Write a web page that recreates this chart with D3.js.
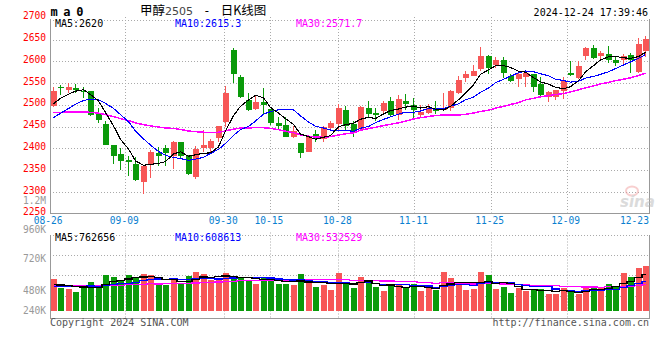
<!DOCTYPE html>
<html><head><meta charset="utf-8">
<script src="https://cdn.jsdelivr.net/npm/d3@7"></script>
<style>body{margin:0;background:#fff}svg{display:block}</style>
</head><body>
<svg id="c" width="660" height="360"></svg>
<script>
// ---------------- data ----------------
const tickLabels = ["08-26","09-09","09-30","10-15","10-28","11-11","11-25","12-09","12-23"];
const tickIndex  = [0, 10, 23, 29, 38, 48, 58, 68, 78];
const priceTicks = [2700,2650,2600,2550,2500,2450,2400,2350,2300,2250];
const volTickLabels = ["1.2M","960K","720K","480K","240K"];
const volTickValues = [1200000,960000,720000,480000,240000];
const maLegend  = ["2620","2615.3","2571.7"];
const volLegend = ["762656","608613","532529"];

// closes before 08-26 (not drawn, estimated from the MA lines)
const priorCloses = [2530,2525,2518,2522,2515,2520,2512,2510,2515,2506,
  2490,2478,2470,2462,2455,2450,2452,2448,2445,2445,
  2440,2432,2436,2442,2445,2478,2492,2500,2513];
const priorVolumes = [560000,520000,480000,590000,540000,510000,570000,500000,530000,550000,
  520000,560000,490000,540000,530000,580000,510000,500000,550000,550000,
  470000,455000,500000,480000,485000,520000,505000,540000,509000];

const opens = [2498,2540,2535,2539,2531,2531,2480,2456,2408,2388,
  2374,2365,2323,2365,2389,2402,2383,2415,2382,2334,
  2400,2402,2423,2461,2627,2564,2511,2490,2506,2490,
  2458,2454,2426,2412,2392,2433,2422,2447,2456,2488,
  2456,2444,2492,2482,2485,2509,2476,2509,2500,2477,
  2482,2494,2488,2494,2528,2561,2567,2583,2613,2591,
  2604,2567,2559,2564,2570,2547,2518,2518,2533,2574,
  2562,2613,2630,2613,2617,2602,2603,2615,2576,2623];
const highs = [2541,2546,2551,2549,2541,2532,2492,2462,2408,2402,
  2382,2380,2359,2396,2403,2408,2418,2415,2386,2405,
  2442,2422,2452,2543,2630,2568,2527,2520,2538,2490,
  2473,2473,2452,2412,2430,2442,2452,2462,2502,2497,
  2462,2497,2508,2492,2508,2518,2523,2524,2515,2499,
  2502,2508,2527,2535,2567,2577,2592,2632,2615,2609,
  2609,2570,2577,2577,2571,2565,2533,2535,2564,2600,
  2600,2632,2638,2624,2636,2612,2617,2619,2653,2658];
const lows = [2496,2523,2528,2527,2516,2474,2459,2407,2364,2351,
  2336,2325,2295,2333,2359,2359,2353,2376,2338,2329,
  2392,2388,2414,2449,2551,2515,2486,2488,2480,2455,
  2444,2426,2424,2377,2392,2415,2414,2442,2442,2442,
  2427,2442,2473,2464,2479,2474,2465,2489,2468,2473,
  2479,2479,2485,2486,2524,2552,2566,2579,2572,2585,
  2562,2552,2541,2542,2530,2516,2507,2511,2514,2566,
  2560,2602,2605,2602,2596,2590,2592,2574,2573,2609];
const closes = [2532,2538,2541,2534,2529,2477,2465,2408,2382,2372,
  2368,2327,2359,2391,2383,2389,2415,2383,2341,2399,
  2408,2418,2452,2527,2570,2518,2489,2506,2500,2458,
  2452,2427,2439,2389,2429,2422,2449,2458,2492,2452,
  2438,2496,2480,2477,2505,2477,2514,2502,2489,2483,
  2492,2485,2492,2532,2558,2570,2577,2613,2585,2604,
  2573,2555,2570,2574,2542,2523,2529,2535,2555,2568,
  2590,2630,2608,2620,2603,2596,2613,2603,2640,2652];
const volumes = [666000,471000,451000,388000,492000,596000,492000,742000,700000,638000,
  742000,673000,763000,742000,534000,534000,679000,555000,721000,804000,
  763000,638000,638000,783000,721000,679000,638000,555000,700000,700000,
  555000,555000,534000,763000,596000,492000,527000,430000,783000,575000,
  471000,700000,575000,492000,409000,513000,555000,471000,555000,409000,
  471000,430000,804000,679000,596000,430000,451000,804000,742000,451000,
  492000,367000,471000,409000,451000,451000,347000,347000,471000,388000,
  347000,471000,513000,471000,555000,513000,783000,700000,887000,929000];

// ---------------- drawing ----------------
const svg = d3.select("#c");
const L = 50, R = 649.5, mainTop = 19, mainBot = 212.5, volTop = 234.5, volBase = 310.7, volBot = 318.5;
const RED = "#f75757", GREEN = "#0a9a0a", GRID = "#aaaaaa", BORDER = "#999999";
const MONO = "'DejaVu Sans Mono', 'Liberation Mono', monospace";

const x = d3.scaleBand().domain(d3.range(closes.length)).range([L, 650]).paddingInner(0.2).paddingOuter(0.1);
const cx = i => Math.round(x(i)) + 2.5;
const xd = d3.scaleLinear().domain([0, 79]).range([49.2, 650.4]);   // date grid axis
const yP = d3.scaleLinear().domain([2250, 2700]).range([213.8, 17.8]);
const yV = d3.scaleLinear().domain([0, 1590000]).range([volBase, volTop]);
const yVLabel = d3.scaleLinear().domain(volTickValues).range([204, 233.3, 262, 294, 314.3]);

function ma(all, n, offset) {
  return d3.range(offset, all.length).map(k => d3.mean(all.slice(k - n + 1, k + 1)));
}
const allC = priorCloses.concat(closes), allV = priorVolumes.concat(volumes);
const off = priorCloses.length;
const pMA = [ma(allC,5,off), ma(allC,10,off), ma(allC,30,off)];
const vMA = [ma(allV,5,off), ma(allV,10,off), ma(allV,30,off)];
const maColors = ["#000000", "#0000ff", "#ff00ff"];

// grids - main
const g = svg.append("g");
priceTicks.slice(1, -1).forEach(v => {
  const yy = Math.round(yP(v)) + 0.5;
  g.append("line").attr("x1", L).attr("x2", R).attr("y1", yy).attr("y2", yy)
    .attr("stroke", GRID).attr("stroke-dasharray", "1,2");
});
[mainTop + 0.5, volTop].forEach(yy => {
  g.append("line").attr("x1", L).attr("x2", R).attr("y1", Math.round(yy) + 0.5).attr("y2", Math.round(yy) + 0.5)
    .attr("stroke", GRID).attr("stroke-dasharray", "1,2");
});
tickIndex.forEach((ti, k) => {
  if (k === 0 || k === tickIndex.length - 1) return;
  const xx = Math.round(xd(ti)) + 0.5;
  g.append("line").attr("x1", xx).attr("x2", xx).attr("y1", mainTop - 2).attr("y2", mainBot)
    .attr("stroke", GRID).attr("stroke-dasharray", "1,2");
  g.append("line").attr("x1", xx).attr("x2", xx).attr("y1", volTop - 2).attr("y2", volBot)
    .attr("stroke", GRID).attr("stroke-dasharray", "1,2");
});
// volume horizontal grid
[1, 2, 3].forEach(k => {
  const yy = Math.round(volTop + k * 20.4) + 0.5;
  g.append("line").attr("x1", L).attr("x2", R).attr("y1", yy).attr("y2", yy)
    .attr("stroke", GRID).attr("stroke-dasharray", "1,2");
});

// borders
const b = svg.append("g").attr("stroke", BORDER).attr("shape-rendering", "crispEdges");
b.append("line").attr("x1", L + 0.5).attr("x2", L + 0.5).attr("y1", mainTop).attr("y2", mainBot + 0.5);
b.append("line").attr("x1", R).attr("x2", R).attr("y1", mainTop).attr("y2", mainBot + 0.5);
b.append("line").attr("x1", L).attr("x2", R).attr("y1", mainBot + 0.5).attr("y2", mainBot + 0.5);
b.append("line").attr("x1", L + 0.5).attr("x2", L + 0.5).attr("y1", volTop).attr("y2", volBot);
b.append("line").attr("x1", R).attr("x2", R).attr("y1", volTop).attr("y2", volBot);
b.append("line").attr("x1", L).attr("x2", R).attr("y1", volBot).attr("y2", volBot);

// sina watermark
const wm = svg.append("g").attr("opacity", 0.5);
wm.append("ellipse").attr("cx", 632).attr("cy", 191).attr("rx", 6).attr("ry", 4.5)
  .attr("fill", "none").attr("stroke", "#f2a0a0").attr("stroke-width", 2);
wm.append("text").attr("x", 620).attr("y", 207).text("sina")
  .attr("font-family", "'DejaVu Sans', sans-serif").attr("font-style", "italic").attr("font-weight", "bold")
  .attr("font-size", 15).attr("fill", "#b8b8b8");

// candles
const cg = svg.append("g").attr("shape-rendering", "crispEdges");
closes.forEach((c, i) => {
  const o = opens[i], up = c >= o, col = up ? RED : GREEN;
  const xx = cx(i);
  cg.append("line").attr("x1", xx).attr("x2", xx)
    .attr("y1", Math.round(yP(highs[i]))).attr("y2", Math.round(yP(lows[i])))
    .attr("stroke", col);
  const top = Math.round(yP(Math.max(o, c))), bot = Math.round(yP(Math.min(o, c)));
  cg.append("rect").attr("x", Math.round(x(i))).attr("y", top)
    .attr("width", 6).attr("height", Math.max(1, bot - top)).attr("fill", col);
});

// volume bars
const vg = svg.append("g").attr("shape-rendering", "crispEdges");
volumes.forEach((v, i) => {
  const up = closes[i] >= opens[i];
  const top = Math.round(yV(v));
  vg.append("rect").attr("x", Math.round(x(i))).attr("y", top)
    .attr("width", 6).attr("height", Math.round(volBase) - top).attr("fill", up ? RED : GREEN);
});

// MA lines
const lineP = d3.line().x((d, i) => cx(i)).y(d => yP(d));
const lineV = d3.line().x((d, i) => cx(i)).y(d => yV(d)).curve(d3.curveStep);
[2, 1, 0].forEach(k => {
  svg.append("path").attr("d", lineP(pMA[k])).attr("fill", "none")
    .attr("stroke", maColors[k]).attr("stroke-width", k === 2 ? 1.5 : 1.1)
    .attr("shape-rendering", "crispEdges");
  svg.append("path").attr("d", lineV(vMA[k])).attr("fill", "none")
    .attr("stroke", maColors[k]).attr("stroke-width", 1.2)
    .attr("shape-rendering", "crispEdges");
});

// texts
const t = (xx, yy, s, col, size, anchor) => svg.append("text").attr("x", xx).attr("y", yy).text(s)
  .attr("fill", col).attr("font-size", size).attr("font-family", MONO).attr("text-anchor", anchor || "start");

priceTicks.forEach(v => t(46, yP(v) + 1.5, String(v), "#ff0000", 9.6, "end"));
volTickLabels.forEach((s, k) => t(46, yVLabel(volTickValues[k]), s, "#999999", 9.6, "end"));
tickIndex.forEach((ti, k) => {
  const xx = Math.min(xd(ti) - 1, R - 15);
  t(xx, 224.3, tickLabels[k], "#0a7fd0", 9.6, "middle");
});

const maNames = ["MA5:", "MA10:", "MA30:"], legX = [55, 175, 296];
maNames.forEach((n, k) => {
  t(legX[k], 26.5, n + maLegend[k], maColors[k], 10);
  t(legX[k], 241, n + volLegend[k], maColors[k], 10);
});

t(50.5, 16, "m a 0", "#000", 12).attr("font-weight", "bold").attr("letter-spacing", "-0.8px");
const title = svg.append("text").attr("x", 140).attr("y", 15).attr("font-size", 12.5)
  .attr("font-family", "'Noto Sans CJK SC', sans-serif").attr("fill", "#000");
title.append("tspan").text("甲醇");
title.append("tspan").text("2505").attr("fill", "#444").attr("font-family", "'DejaVu Sans', sans-serif").attr("font-size", 11);
title.append("tspan").text(" - ").attr("font-family", MONO).attr("font-size", 12).attr("dx", 3);
title.append("tspan").text("日K线图").attr("dx", 3);
t(648, 15.7, "2024-12-24 17:39:46", "#000", 10, "end");
t(50, 326, "Copyright 2024 SINA.COM", "#555", 10);
t(649, 326, "http://finance.sina.com.cn", "#555", 10, "end");
</script>
</body></html>
